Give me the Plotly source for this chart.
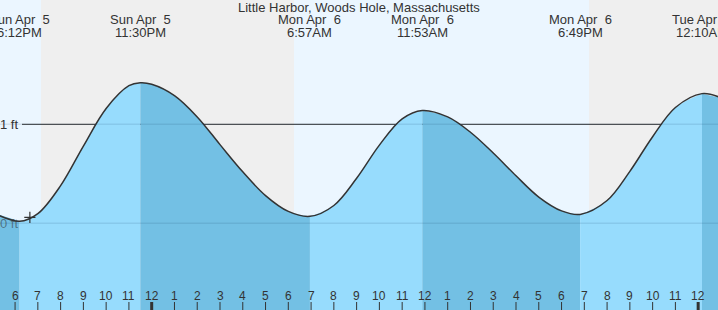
import plotly.graph_objects as go

TITLE = "Little Harbor, Woods Hole, Massachusetts"

# Tide readings: hours since Sun Apr 5 00:00 -> height (ft)
TIDE_HOURS = [17, 18.2, 19, 20, 21, 22, 23, 23.5, 24, 25, 26, 27, 28, 29, 30, 30.95,
              32, 33, 34, 35, 35.883, 37, 38, 39, 40, 41, 42, 42.817,
              44, 45, 46, 47, 48.167, 49]
TIDE_FEET = [0.11, 0.02, 0.097, 0.38, 0.78, 1.16, 1.39, 1.42, 1.405, 1.29, 1.075, 0.795,
             0.52, 0.28, 0.12, 0.07, 0.18, 0.455, 0.79, 1.055, 1.14, 1.075, 0.92, 0.71,
             0.48, 0.265, 0.125, 0.09, 0.23, 0.525, 0.875, 1.17, 1.31, 1.268]

# High / low extremes and their labels
EXTREME_HOURS = [18.2, 23.5, 30.95, 35.883, 42.817, 48.167]
EXTREME_DATES = ["Sun Apr\u00a0 5", "Sun Apr\u00a0 5", "Mon Apr\u00a0 6", "Mon Apr\u00a0 6",
                 "Mon Apr\u00a0 6", "Tue Apr\u00a0 7"]
EXTREME_TIMES = ["6:12PM", "11:30PM", "6:57AM", "11:53AM", "6:49PM", "12:10AM"]

# Hour ticks along the bottom
TICK_HOURS = [18, 19, 20, 21, 22, 23, 24, 25, 26, 27, 28, 29, 30, 31, 32, 33, 34, 35,
              36, 37, 38, 39, 40, 41, 42, 43, 44, 45, 46, 47, 48]
TICK_LABELS = ["6", "7", "8", "9", "10", "11", "12", "1", "2", "3", "4", "5", "6", "7",
               "8", "9", "10", "11", "12", "1", "2", "3", "4", "5", "6", "7", "8", "9",
               "10", "11", "12"]
MIDNIGHT_HOURS = [24, 48]

# Night spans (sunset -> sunrise)
NIGHT_STARTS = [19.14, 43.21]
NIGHT_ENDS = [30.25, 60.0]

# Reference levels
REF_LEVELS = [0, 1]
REF_LABELS = ["0 ft", "1 ft"]

# Current-time marker
NOW_HOUR = [18.65]
NOW_FEET = [0.06]

X_RANGE = [17.338, 48.871]
Y_RANGE = [-0.876, 2.256]
W, H = 718, 310

DAY_BG = "#ebf6ff"
NIGHT_BG = "#efefef"
RISE_FILL = "#97dcfd"
FALL_FILL = "#73c0e4"
TEXT = "#333333"
FONT = "Liberation Sans, Arial, sans-serif"

fig = go.Figure()

# split series into rising / falling segments at the extremes
cut_idx = [0] + [TIDE_HOURS.index(h) for h in EXTREME_HOURS] + [len(TIDE_HOURS) - 1]
for a, b in zip(cut_idx[:-1], cut_idx[1:]):
    if b <= a:
        continue
    xs = TIDE_HOURS[a:b + 1]
    ys = TIDE_FEET[a:b + 1]
    color = RISE_FILL if ys[-1] > ys[0] else FALL_FILL
    fig.add_trace(go.Scatter(x=xs, y=[Y_RANGE[0]] * len(xs), mode="lines",
                             line=dict(width=0), hoverinfo="skip", showlegend=False))
    fig.add_trace(go.Scatter(x=xs, y=ys, mode="lines", fill="tonexty", fillcolor=color,
                             line=dict(width=0, shape="spline", smoothing=1.0),
                             hoverinfo="skip", showlegend=False))

# curve outline
fig.add_trace(go.Scatter(x=TIDE_HOURS, y=TIDE_FEET, mode="lines",
                         line=dict(color="#333333", width=1.5, shape="spline", smoothing=1.0),
                         hoverinfo="skip", showlegend=False))

# current time marker
fig.add_trace(go.Scatter(x=NOW_HOUR, y=NOW_FEET, mode="markers",
                         marker=dict(symbol="cross-thin", size=8,
                                     line=dict(color="#333333", width=1.2)),
                         hoverinfo="skip", showlegend=False))

shapes = []
for s, e in zip(NIGHT_STARTS, NIGHT_ENDS):
    shapes.append(dict(type="rect", xref="x", yref="paper", x0=s, x1=e, y0=0, y1=1,
                       fillcolor=NIGHT_BG, line=dict(width=0), layer="below"))
# reference lines: solid below the water, faint across it
for lvl in REF_LEVELS:
    if lvl != 0:
        shapes.append(dict(type="line", xref="paper", yref="y", x0=22 / W, x1=1,
                           y0=lvl, y1=lvl, line=dict(color="#333333", width=1),
                           layer="below"))
    shapes.append(dict(type="line", xref="paper", yref="y", x0=0, x1=1, y0=lvl, y1=lvl,
                       line=dict(color="rgba(0,40,80,0.10)", width=1.5), layer="above"))
# hour ticks
for h in TICK_HOURS:
    wide = h in MIDNIGHT_HOURS
    shapes.append(dict(type="line", xref="x", yref="paper", x0=h, x1=h, y0=0,
                       y1=8 / H, line=dict(color="#333333", width=3 if wide else 1),
                       layer="above"))

ann = []
for h, lab in zip(TICK_HOURS, TICK_LABELS):
    ann.append(dict(x=h, y=1 - 296 / H, xref="x", yref="paper", text=lab,
                    showarrow=False, xanchor="center", yanchor="middle",
                    font=dict(family=FONT, size=12, color=TEXT)))
for h, d, t in zip(EXTREME_HOURS, EXTREME_DATES, EXTREME_TIMES):
    ann.append(dict(x=h, y=1 - 19.5 / H, xref="x", yref="paper", text=d,
                    showarrow=False, xanchor="center", yanchor="middle",
                    font=dict(family=FONT, size=13, color=TEXT)))
    ann.append(dict(x=h, y=1 - 32 / H, xref="x", yref="paper", text=t,
                    showarrow=False, xanchor="center", yanchor="middle",
                    font=dict(family=FONT, size=13, color=TEXT)))
ann.append(dict(x=0.5, y=1 - 7.5 / H, xref="paper", yref="paper", text=TITLE,
                showarrow=False, xanchor="center", yanchor="middle",
                font=dict(family=FONT, size=13, color=TEXT)))
for lvl, lab in zip(REF_LEVELS, REF_LABELS):
    ann.append(dict(x=20 / W, y=lvl, xref="paper", yref="y", text=lab,
                    showarrow=False, xanchor="right", yanchor="middle",
                    font=dict(family=FONT, size=13,
                              color=TEXT if lvl != 0 else "rgba(51,51,51,0.55)")))

fig.update_layout(
    width=W, height=H, margin=dict(l=0, r=0, t=0, b=0),
    paper_bgcolor=DAY_BG, plot_bgcolor=DAY_BG,
    xaxis=dict(range=X_RANGE, visible=False, showgrid=False, zeroline=False, fixedrange=True),
    yaxis=dict(range=Y_RANGE, visible=False, showgrid=False, zeroline=False, fixedrange=True),
    shapes=shapes, annotations=ann, showlegend=False,
)

fig.write_html("out.html", config={"displayModeBar": False})
